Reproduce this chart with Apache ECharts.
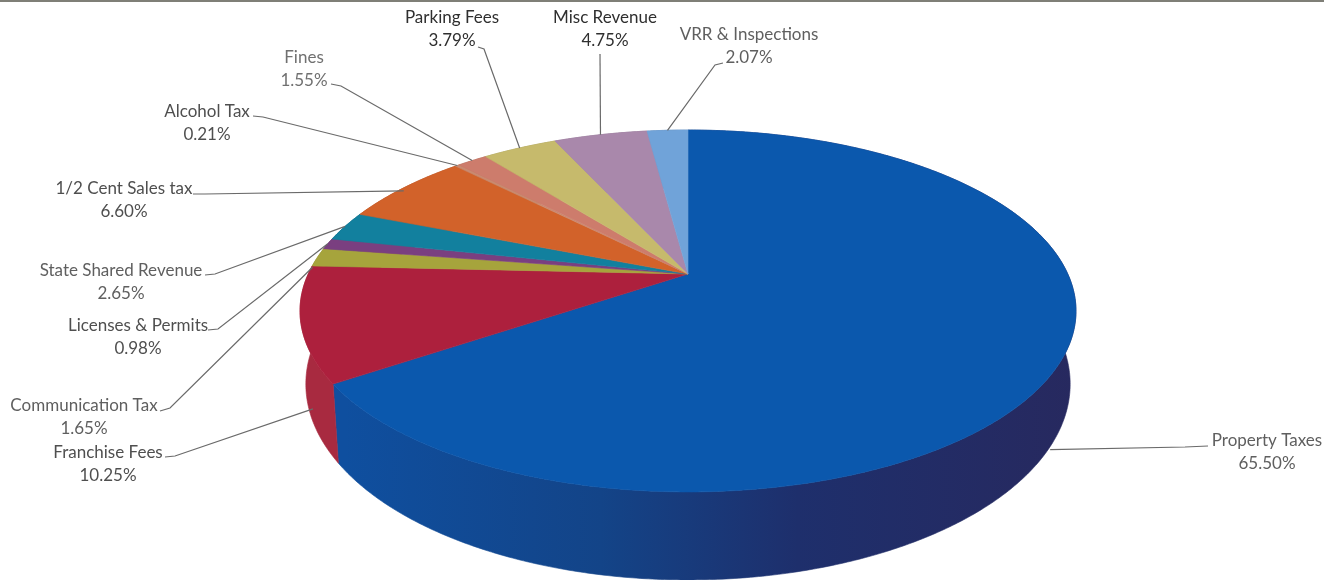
<!DOCTYPE html>
<html><head><meta charset="utf-8">
<style>html,body{margin:0;padding:0;background:#fff}#c{width:1324px;height:580px}</style>
<script src="https://cdn.jsdelivr.net/npm/echarts@6/dist/echarts.min.js"></script>
</head><body><div id="c"></div>
<script>
// data (clockwise from 12 o'clock)
var categories = ['Property Taxes','Franchise Fees','Communication Tax','Licenses & Permits','State Shared Revenue','1/2 Cent Sales tax','Alcohol Tax','Fines','Parking Fees','Misc Revenue','VRR & Inspections'];
var shares = [65.50,10.25,1.65,0.98,2.65,6.60,0.21,1.55,3.79,4.75,2.07];

// styles
var topColors = ['#0b58ad','#ad203d','#a6a43c','#7a3f80','#12809e','#d2622a','#c98a70','#cd7c6c','#c6ba6c','#a988ab','#70a3d9'];
var sideColors = [null,'#a82a40','#8a8830','#5f3066','#0e667e','#a94e22','#a06e58','#a46356','#9e9556','#876d89','#5a82ae'];
var textColors = ['#5f5f5f','#4f4f4f','#5f5f5f','#4f4f4f','#5f5f5f','#4f4f4f','#4f4f4f','#707070','#2f2f2f','#2f2f2f','#5f5f5f'];

// layout of the projected disc
var CX = 688, CY = 274, A = 379.8, B = 173.4, K = 0.2044, D = 70, BASE = 0.985;
// label centre, block y, leader start points, leader end offset from rim
var labelLayout = [
 {x:1267,y:452,path:[[1208,446],[1185,447]],off:[-9,86]},
 {x:108,y:464,path:[[165,457],[175,456]],off:[12,85]},
 {x:84,y:417,path:[[160,411],[170,408]],off:[-5,10]},
 {x:138,y:337,path:[[208,330],[218,329]],off:[0,0]},
 {x:121,y:282,path:[[205,275],[215,274]],off:[0,0]},
 {x:124,y:200,path:[[193,194],[205,194]],off:[0,3]},
 {x:207,y:123,path:[[253,116],[263,117]],off:[0,0]},
 {x:304,y:69,path:[[331,84],[341,86]],off:[0,0]},
 {x:452,y:29,path:[[478,47],[484,49]],off:[0,0]},
 {x:605,y:29,path:[[600,54]],off:[0,0]},
 {x:749,y:46,path:[[723,63],[715,65]],off:[0,0]}
];

function project(deg, depth) {
  var t = deg * Math.PI / 180, u = Math.sin(t), v = Math.cos(t), w = 1 + K * v;
  return [CX + A * u / w * (depth ? BASE : 1), CY - B * v / w + (depth ? D / w : 0)];
}
var cum = [0];
shares.forEach(function (s, i) { cum.push(cum[i] + s); });
var total = cum[cum.length - 1];
function arc(a0, a1, depth) {
  var pts = [], n = Math.max(2, Math.ceil((a1 - a0) / 0.5));
  for (var i = 0; i <= n; i++) pts.push(project(a0 + (a1 - a0) * i / n, depth));
  return pts;
}
function render(params, api) {
  var i = api.value(0);
  var a0 = cum[i] / total * 360, a1 = cum[i + 1] / total * 360, mid = (a0 + a1) / 2;
  var topArc = arc(a0, a1, false);
  var side = topArc.concat(arc(a0, a1, true).reverse());
  var sideFill = i === 0 ? {type:'linear',x:345,y:0,x2:1075,y2:0,global:true,colorStops:[
    {offset:0,color:'#0f4f9f'},{offset:0.35,color:'#134488'},{offset:0.62,color:'#1e2f6c'},{offset:1,color:'#27295f'}]} : sideColors[i];
  var lay = labelLayout[i];
  var rim = project(mid, false);
  var leader = lay.path.concat([[rim[0] + lay.off[0], rim[1] + lay.off[1]]]);
  return {type:'group',silent:true,children:[
    {type:'polygon',z2:1,shape:{points:side},style:{fill:sideFill,stroke:sideFill,lineWidth:0.6}},
    {type:'polygon',z2:2,shape:{points:[[CX,CY]].concat(topArc)},style:{fill:topColors[i],stroke:topColors[i],lineWidth:0.6}},
    {type:'polyline',z2:3,shape:{points:leader},style:{fill:'none',stroke:'#6a6a6a',lineWidth:1.2}},
    {type:'text',z2:4,style:{x:lay.x,y:lay.y,text:categories[i]+'\n'+shares[i].toFixed(2)+'%',align:'center',verticalAlign:'middle',
      fill:textColors[i],font:'17px Lato',lineHeight:22.5}}
  ]};
}
var chart = echarts.init(document.getElementById('c'));
chart.setOption({
  animation:false,
  backgroundColor:'#fff',
  graphic:[{type:'rect',shape:{x:0,y:0,width:1324,height:2},style:{fill:'#7f7f77'},silent:true}],
  series:[{type:'custom',coordinateSystem:'none',renderItem:render,data:shares.map(function(s,i){return [i,s];}),clip:false}]
});
</script></body></html>
